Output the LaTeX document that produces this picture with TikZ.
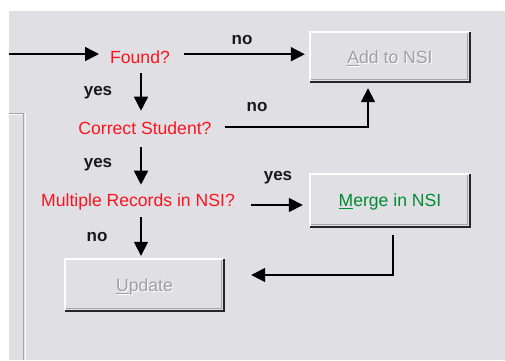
\documentclass[tikz,border=0pt]{standalone}
\usepackage{fontspec}
\setmainfont{Liberation Sans}
\usetikzlibrary{arrows.meta}
\definecolor{bg}{RGB}{224,223,228}
\definecolor{dis}{RGB}{160,160,164}
\definecolor{qred}{RGB}{250,20,30}
\definecolor{mgreen}{RGB}{0,140,50}
\newcommand\distext[1]{\makebox[0pt][l]{\raisebox{-1pt}{\kern1pt\color{white}#1}}{\color{dis}#1}}
\tikzset{
  uifont/.style={font=\fontsize{17.6}{20}\selectfont},
  question/.style={uifont, text=qred, inner sep=0pt, text height=12.6pt, text depth=0pt, anchor=base},
  answer/.style={font=\fontsize{17}{20}\selectfont\bfseries, text=black!90, inner sep=0pt, anchor=base},
  button/.style={uifont, inner sep=0pt, text height=12.6pt, text depth=0pt},
  arr/.style={line width=1.6pt, -{Triangle[length=14pt,width=14pt]}},
  plain/.style={line width=1.6pt}
}
\newcommand\drawbutton[1]{%
  \draw[white,line width=1.5pt] (#1.south west) -- (#1.north west) -- (#1.north east);
  \draw[black!35,line width=1pt] ([shift={(1.5pt,2.5pt)}]#1.south west) -- ([shift={(-2.5pt,2.5pt)}]#1.south east) -- ([shift={(-2.5pt,-1.5pt)}]#1.north east);
  \draw[black!85,line width=2pt] (#1.south west) -- (#1.south east) -- (#1.north east);
}
\begin{document}
\begin{tikzpicture}[x=1pt,y=-1pt]
\useasboundingbox (0,0) rectangle (505,360);
\fill[white] (0,0) rectangle (505,360);
\fill[bg] (9,11) rectangle (505,360);
% panel corner
\draw[black!35,line width=1pt] (9,113) -- (23,113) -- (23,360);
\draw[white,line width=1pt] (9,114.5) -- (21.5,114.5);
\draw[white,line width=1pt] (25,113) -- (25,360);

% buttons
\node[button, minimum width=160pt, minimum height=50pt] (add) at (390,57) {\distext{\underline{A}dd to NSI}};
\node[button, minimum width=160pt, minimum height=53pt, text=mgreen] (merge) at (390,200.5) {\underline{M}erge in NSI};
\node[button, minimum width=159pt, minimum height=52pt] (update) at (144.5,285) {\distext{\underline{U}pdate}};
\drawbutton{add}
\drawbutton{merge}
\drawbutton{update}

% questions
\node[question] (found) at (140,63) {Found?};
\node[question] (correct) at (145,134.5) {Correct Student?};
\node[question] (multi) at (138,206) {Multiple Records in NSI?};

% answers
\node[answer] (no1) at (242,44) {no};
\node[answer] (yes1) at (98,95) {yes};
\node[answer] (no2) at (257,111) {no};
\node[answer] (yes2) at (98,167) {yes};
\node[answer] (yes3) at (278,180) {yes};
\node[answer] (no3) at (97,241) {no};

% connectors
\coordinate (entry) at (9,54);
\draw[arr] (entry) -- (entry -| 99,0);
\draw[arr, shorten <=14pt, shorten >=5pt] ([yshift=2.5pt]found.east) -- ([yshift=2.5pt]found.east -| add.west);
\draw[arr, shorten <=10pt, shorten >=11pt] ([xshift=1pt]found.south) -- ([xshift=1pt]found.south |- correct.north);
\draw[arr, shorten <=13pt, shorten >=6pt] ([yshift=1.2pt]correct.east) -| ([xshift=-22pt]add.south);
\draw[arr, shorten <=12.5pt, shorten >=8.5pt] ([xshift=1pt]found.south |- correct.south) -- ([xshift=1pt]found.south |- multi.north);
\draw[arr, shorten <=16pt, shorten >=7pt] ([yshift=-5.3pt]multi.east) -- ([yshift=-5.3pt]multi.east -| merge.west);
\draw[arr, shorten <=11pt, shorten >=3pt] ([xshift=1pt]found.south |- multi.south) -- ([xshift=1pt]found.south |- update.north);
\draw[arr, shorten <=8pt, shorten >=27pt] ([xshift=3pt]merge.south) |- ([yshift=10pt]update.east);
\end{tikzpicture}
\end{document}
